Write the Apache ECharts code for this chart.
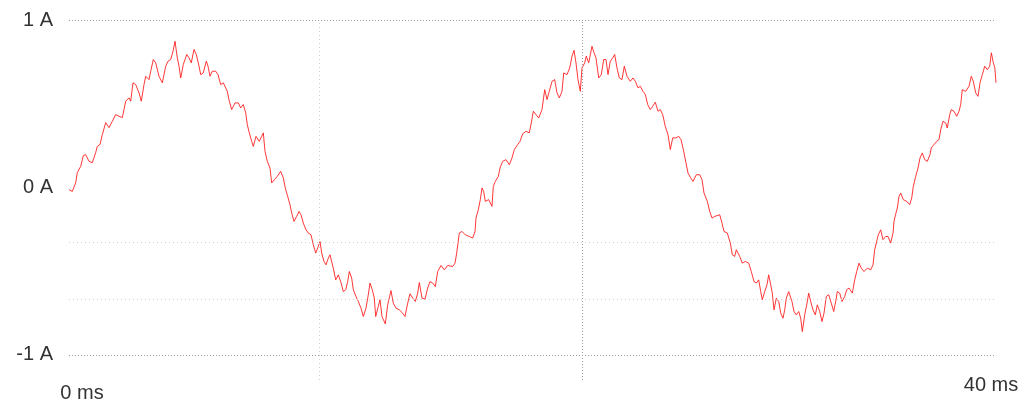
<!DOCTYPE html>
<html>
<head>
<meta charset="utf-8">
<style>
  html, body { margin: 0; padding: 0; background: #ffffff; }
  #chart { width: 1027px; height: 405px; }
</style>
<script src="https://cdn.jsdelivr.net/npm/echarts@6/dist/echarts.min.js"></script>
</head>
<body>
<div id="chart"></div>
<script>
// sample times (ms)
const times = [
  0, 0.142, 0.289, 0.358, 0.505, 0.617, 0.721, 0.863, 1.005, 1.152,
  1.221, 1.338, 1.437, 1.584, 1.726, 1.868, 2.015, 2.158, 2.300, 2.373,
  2.447, 2.589, 2.662, 2.762, 2.878, 3.021, 3.120, 3.236, 3.310, 3.452,
  3.525, 3.638, 3.741, 3.884, 4.026, 4.173, 4.272, 4.388, 4.488, 4.574,
  4.673, 4.747, 4.820, 4.932, 5.079, 5.178, 5.277, 5.394, 5.493, 5.579,
  5.683, 5.795, 5.925, 5.998, 6.084, 6.183, 6.330, 6.429, 6.546, 6.658,
  6.731, 6.831, 6.917, 7.021, 7.163, 7.305, 7.409, 7.521, 7.625, 7.694,
  7.780, 7.884, 7.953, 8.069, 8.142, 8.212, 8.315, 8.384, 8.457, 8.557,
  8.673, 8.747, 8.859, 8.988, 9.135, 9.247, 9.333, 9.437, 9.536, 9.610,
  9.709, 9.825, 9.925, 10.011, 10.110, 10.227, 10.326, 10.442, 10.542, 10.645,
  10.731, 10.831, 10.904, 11.003, 11.090, 11.189, 11.262, 11.405, 11.508, 11.620,
  11.724, 11.836, 11.940, 12.026, 12.095, 12.198, 12.268, 12.384, 12.483, 12.600,
  12.699, 12.816, 12.915, 12.988, 13.087, 13.174, 13.234, 13.346, 13.420, 13.506,
  13.649, 13.752, 13.894, 13.994, 14.110, 14.253, 14.399, 14.498, 14.615, 14.714,
  14.831, 14.943, 15.046, 15.116, 15.232, 15.361, 15.478, 15.577, 15.694, 15.806,
  15.909, 16.052, 16.194, 16.341, 16.557, 16.656, 16.729, 16.785, 16.841, 16.958,
  17.101, 17.273, 17.420, 17.519, 17.562, 17.662, 17.748, 17.821, 17.894, 17.963,
  18.110, 18.252, 18.309, 18.395, 18.525, 18.598, 18.714, 18.857, 19.000, 19.115,
  19.215, 19.361, 19.461, 19.577, 19.720, 19.862, 19.948, 20.035, 20.121, 20.268,
  20.410, 20.526, 20.626, 20.725, 20.842, 20.958, 21.057, 21.157, 21.273, 21.347,
  21.489, 21.606, 21.705, 21.791, 21.877, 21.963, 22.063, 22.136, 22.253, 22.322,
  22.425, 22.494, 22.567, 22.654, 22.740, 22.857, 22.969, 23.072, 23.172, 23.258,
  23.357, 23.461, 23.547, 23.646, 23.745, 23.862, 23.961, 24.078, 24.220, 24.337,
  24.436, 24.552, 24.652, 24.768, 24.868, 24.971, 25.083, 25.187, 25.299, 25.415,
  25.515, 25.618, 25.730, 25.847, 25.946, 26.050, 26.192, 26.309, 26.408, 26.524,
  26.624, 26.710, 26.826, 26.926, 27.068, 27.216, 27.315, 27.400, 27.543, 27.646,
  27.746, 27.862, 28.078, 28.177, 28.263, 28.406, 28.535, 28.622, 28.725, 28.794,
  28.941, 29.053, 29.183, 29.329, 29.441, 29.558, 29.657, 29.761, 29.847, 29.916,
  30.020, 30.119, 30.192, 30.278, 30.347, 30.421, 30.520, 30.624, 30.710, 30.809,
  30.883, 30.952, 31.055, 31.125, 31.197, 31.284, 31.383, 31.487, 31.573, 31.642,
  31.746, 31.832, 31.918, 32.004, 32.104, 32.203, 32.289, 32.393, 32.492, 32.578,
  32.678, 32.781, 32.893, 32.997, 33.083, 33.152, 33.256, 33.355, 33.472, 33.558,
  33.657, 33.800, 33.903, 33.990, 34.089, 34.188, 34.304, 34.447, 34.593, 34.693,
  34.766, 34.852, 34.921, 35.025, 35.124, 35.241, 35.340, 35.457, 35.556, 35.599,
  35.664, 35.741, 35.815, 35.888, 36.000, 36.147, 36.276, 36.363, 36.432, 36.535,
  36.635, 36.721, 36.820, 36.924, 37.036, 37.152, 37.208, 37.325, 37.441, 37.541,
  37.614, 37.713, 37.830, 37.899, 38.003, 38.072, 38.188, 38.305, 38.404, 38.477,
  38.546, 38.693, 38.835, 38.934, 39.021, 39.124, 39.224, 39.310, 39.410, 39.513,
  39.626, 39.729, 39.800, 39.886, 39.950, 40.000
];

// measured current (A)
const currents = [
  -0.013, -0.024, 0.028, 0.088, 0.126, 0.190, 0.196, 0.156, 0.148, 0.208,
  0.245, 0.256, 0.315, 0.387, 0.357, 0.395, 0.435, 0.425, 0.417, 0.465,
  0.515, 0.535, 0.515, 0.625, 0.614, 0.565, 0.515, 0.614, 0.664, 0.644,
  0.694, 0.764, 0.744, 0.664, 0.625, 0.724, 0.754, 0.764, 0.813, 0.873,
  0.774, 0.724, 0.654, 0.734, 0.794, 0.774, 0.744, 0.824, 0.794, 0.744,
  0.674, 0.684, 0.754, 0.724, 0.664, 0.694, 0.694, 0.674, 0.614, 0.625,
  0.634, 0.574, 0.515, 0.465, 0.505, 0.505, 0.475, 0.495, 0.445, 0.375,
  0.326, 0.275, 0.245, 0.305, 0.315, 0.275, 0.305, 0.326, 0.216, 0.156,
  0.116, 0.027, 0.046, 0.066, 0.096, 0.057, -0.003, -0.054, -0.103, -0.153,
  -0.203, -0.173, -0.143, -0.163, -0.213, -0.253, -0.272, -0.283, -0.342, -0.392,
  -0.362, -0.323, -0.392, -0.442, -0.462, -0.422, -0.402, -0.482, -0.552, -0.522,
  -0.562, -0.622, -0.611, -0.562, -0.502, -0.541, -0.611, -0.651, -0.681, -0.721,
  -0.771, -0.721, -0.641, -0.571, -0.611, -0.661, -0.771, -0.711, -0.671, -0.771,
  -0.815, -0.701, -0.616, -0.691, -0.721, -0.731, -0.751, -0.771, -0.691, -0.635,
  -0.661, -0.681, -0.631, -0.568, -0.661, -0.667, -0.601, -0.562, -0.571, -0.592,
  -0.502, -0.466, -0.492, -0.466, -0.472, -0.452, -0.392, -0.332, -0.272, -0.263,
  -0.283, -0.293, -0.302, -0.263, -0.183, -0.133, -0.073, -0.003, -0.024, -0.083,
  -0.073, -0.113, 0.006, 0.036, 0.066, 0.116, 0.156, 0.166, 0.136, 0.176,
  0.226, 0.256, 0.275, 0.321, 0.335, 0.326, 0.385, 0.455, 0.465, 0.415,
  0.465, 0.584, 0.525, 0.574, 0.634, 0.644, 0.565, 0.535, 0.574, 0.684,
  0.674, 0.714, 0.784, 0.819, 0.744, 0.644, 0.574, 0.714, 0.744, 0.784,
  0.744, 0.754, 0.843, 0.804, 0.774, 0.654, 0.674, 0.764, 0.764, 0.674,
  0.754, 0.774, 0.794, 0.714, 0.654, 0.644, 0.724, 0.664, 0.634, 0.654,
  0.634, 0.595, 0.604, 0.574, 0.555, 0.495, 0.465, 0.485, 0.509, 0.455,
  0.465, 0.435, 0.365, 0.315, 0.226, 0.296, 0.296, 0.305, 0.286, 0.216,
  0.146, 0.086, 0.057, 0.036, 0.076, 0.076, 0.046, -0.033, -0.083, -0.143,
  -0.183, -0.173, -0.163, -0.213, -0.263, -0.272, -0.332, -0.402, -0.412, -0.372,
  -0.412, -0.452, -0.442, -0.452, -0.502, -0.562, -0.571, -0.552, -0.622, -0.671,
  -0.622, -0.581, -0.522, -0.581, -0.631, -0.731, -0.661, -0.681, -0.751, -0.781,
  -0.731, -0.661, -0.622, -0.622, -0.681, -0.741, -0.761, -0.741, -0.781, -0.861,
  -0.761, -0.701, -0.631, -0.681, -0.731, -0.761, -0.701, -0.741, -0.801, -0.751,
  -0.651, -0.641, -0.691, -0.741, -0.681, -0.622, -0.631, -0.681, -0.651, -0.611,
  -0.601, -0.631, -0.552, -0.502, -0.452, -0.482, -0.502, -0.482, -0.492, -0.462,
  -0.372, -0.323, -0.283, -0.253, -0.312, -0.293, -0.293, -0.332, -0.272, -0.203,
  -0.163, -0.123, -0.054, -0.033, -0.073, -0.083, -0.103, -0.063, 0.006, 0.066,
  0.116, 0.176, 0.206, 0.166, 0.156, 0.196, 0.236, 0.256, 0.275, 0.286,
  0.345, 0.395, 0.385, 0.355, 0.435, 0.465, 0.455, 0.425, 0.455, 0.495,
  0.584, 0.574, 0.604, 0.664, 0.634, 0.565, 0.544, 0.625, 0.674, 0.724,
  0.704, 0.724, 0.804, 0.744, 0.714, 0.625
];

// tick labels
const yTickValues = [-1, 0, 1];
const yUnit = 'A';
const xStartTick = [0];
const xEndTick = [40];
const xUnit = 'ms';

// reference grid lines
const darkGridY = [1, -1];
const lightGridY = [-0.333, -0.667];
const lightGridX = [10.79];
const darkGridX = [22.14];

const FONT = '"Liberation Sans", Arial, Helvetica, sans-serif';
const darkLine = { color: '#9a9a9a', type: [1, 2], width: 1 };
const lightLine = { color: '#d0d0d0', type: [1, 3], width: 1 };

const markData = []
  .concat(darkGridY.map(v => ({ yAxis: v, lineStyle: darkLine })))
  .concat(lightGridY.map(v => ({ yAxis: v, lineStyle: lightLine })))
  .concat(lightGridX.map(v => ({ xAxis: v, lineStyle: lightLine })))
  .concat(darkGridX.map(v => ({ xAxis: v, lineStyle: darkLine })));

const chart = echarts.init(document.getElementById('chart'), null, { renderer: 'canvas' });

const baseX = {
  type: 'value', min: 0, max: 40, position: 'bottom',
  axisLine: { show: false }, axisTick: { show: false }, splitLine: { show: false }
};

chart.setOption({
  animation: false,
  backgroundColor: '#ffffff',
  grid: { left: 69, right: 31, top: 20, bottom: 25, containLabel: false },
  xAxis: [
    Object.assign({}, baseX, {
      axisLabel: {
        customValues: xStartTick,
        formatter: v => v + ' ' + xUnit,
        color: '#333', fontSize: 20, fontFamily: FONT,
        margin: 3, padding: [0, 0, 0, 26]
      }
    }),
    Object.assign({}, baseX, {
      axisLabel: {
        customValues: xEndTick,
        formatter: v => v + ' ' + xUnit,
        color: '#333', fontSize: 20, fontFamily: FONT,
        margin: -5, padding: [0, 10, 0, 0]
      }
    })
  ],
  yAxis: {
    type: 'value', min: -1.15, max: 1,
    axisLine: { show: false }, axisTick: { show: false }, splitLine: { show: false },
    axisLabel: {
      customValues: yTickValues,
      formatter: v => v + ' ' + yUnit,
      color: '#333', fontSize: 20, fontFamily: FONT, margin: 16
    }
  },
  series: [{
    type: 'line',
    xAxisIndex: 0,
    showSymbol: false,
    smooth: false,
    lineStyle: { color: 'rgba(255,20,20,0.85)', width: 1 },
    data: times.map((t, i) => [t, currents[i]]),
    markLine: {
      silent: true,
      symbol: ['none', 'none'],
      label: { show: false },
      data: markData
    },
    z: 3
  }]
});
</script>
</body>
</html>
